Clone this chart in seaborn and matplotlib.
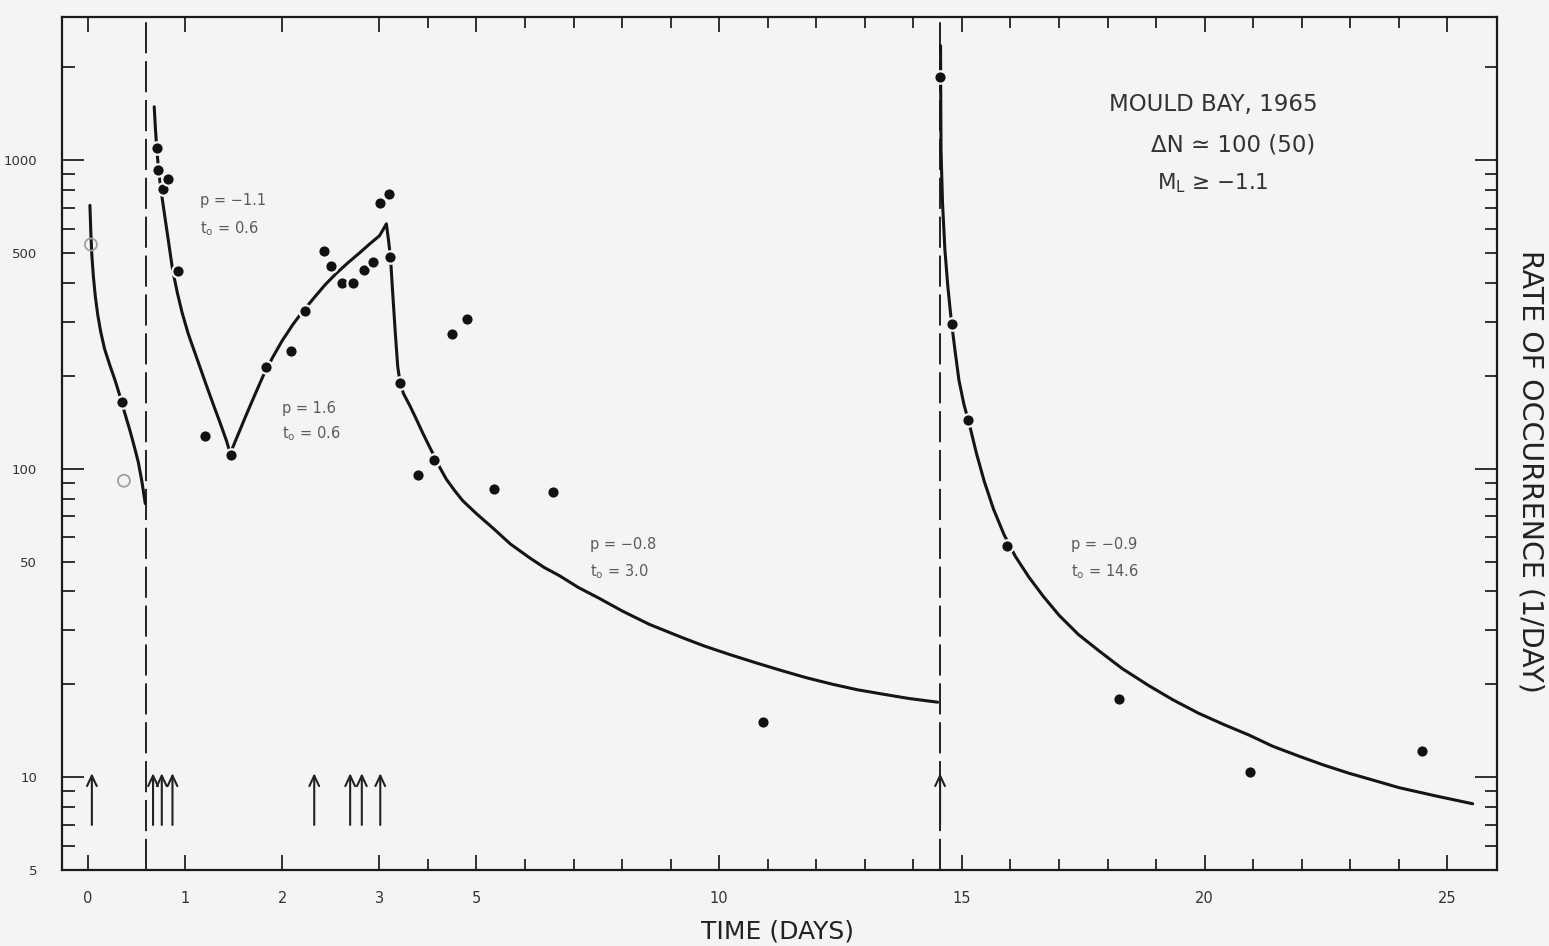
import numpy as np
import pandas as pd
import matplotlib
matplotlib.use("Agg")
import matplotlib.pyplot as plt
from matplotlib.ticker import FixedLocator, FuncFormatter
import seaborn as sns

# ---------------- data ----------------
# filled circles: time (days), rate (1/day)
obs_t = [0.35, 0.71, 0.72, 0.77, 0.82, 0.93, 1.21, 1.47, 1.83, 2.09, 2.23, 2.43, 2.50,
         2.62, 2.73, 2.84, 2.94, 3.01, 3.19, 3.23, 3.43, 3.80, 4.13, 4.50, 4.80, 5.36,
         6.57, 10.9, 14.55, 14.8, 15.13, 15.93, 18.23, 20.93, 24.47]
obs_rate = [164, 1099, 928, 809, 872, 436, 128, 111, 213, 241, 324, 507, 453,
            400, 400, 442, 468, 727, 780, 485, 189, 95.5, 107, 273, 305, 85.9,
            84.1, 15.1, 1857, 294, 144, 56.2, 17.9, 10.4, 12.2]

# open circles
open_t = [0.03, 0.37]
open_rate = [533, 91.4]

# fitted curves
curve1_t = [0.02, 0.025, 0.03, 0.04, 0.055, 0.075, 0.10, 0.13, 0.17, 0.226, 0.28, 0.329,
            0.38, 0.432, 0.48, 0.518, 0.555, 0.59]
curve1_rate = [714, 640, 575, 490, 422, 363, 316, 279, 245, 216, 193, 172,
               151, 133, 117, 105, 91, 77]

curve2_t = [0.682, 0.695, 0.71, 0.73, 0.758, 0.79, 0.83, 0.871, 0.92, 0.97, 1.032, 1.09,
            1.152, 1.22, 1.289, 1.36, 1.427, 1.465,
            1.55, 1.632, 1.72, 1.804, 1.9, 2.0, 2.112, 2.2, 2.318, 2.44, 2.558, 2.68,
            2.798, 2.9, 3.004, 3.08, 3.146,
            3.19, 3.23, 3.28, 3.33, 3.38, 3.43, 3.50, 3.63, 3.76, 3.90, 4.02, 4.14,
            4.26, 4.38, 4.55, 4.72, 5.0, 5.35, 5.7, 6.09, 6.4, 6.71, 7.1, 7.53, 8.0,
            8.56, 9.25, 9.7, 10.21, 10.75, 11.31, 11.8, 12.34, 12.85, 13.36, 13.9, 14.50]
curve2_rate = [1490, 1259, 1072, 912, 776, 661, 543, 442, 372, 320, 274, 243,
               214, 186, 162, 141, 123, 112,
               130, 150, 174, 200, 229, 260, 294, 320, 355, 394, 430, 466,
               501, 535, 569, 596, 622,
               550, 485, 363, 275, 214, 189, 175, 160, 145, 130, 119, 109,
               100, 92.5, 85, 78.7, 71.5, 64, 57, 51.5, 47.8, 45, 41.2, 38, 34.6,
               31.3, 28.3, 26.6, 25.0, 23.5, 22.1, 21.0, 20.0, 19.2, 18.6, 18.0, 17.5]

curve3_t = [14.56, 14.565, 14.57, 14.60, 14.65, 14.71, 14.78, 14.86, 14.94, 15.04, 15.15,
            15.30, 15.46, 15.65, 15.87, 16.10, 16.38, 16.68, 17.0, 17.4, 17.82, 18.3,
            18.85, 19.35, 19.88, 20.4, 20.91, 21.4, 21.94, 22.45, 22.97, 23.5, 24.0,
            24.75, 25.52]
curve3_rate = [2350, 1500, 1077, 730, 511, 390, 303, 240, 193, 162, 140,
               112, 91, 74, 61, 52, 44.5, 38.5, 33.5, 29, 25.7, 22.5,
               19.8, 17.8, 16.1, 14.8, 13.7, 12.6, 11.7, 10.95, 10.3, 9.75, 9.25,
               8.7, 8.2]

# main shocks (arrows) and onset lines
arrow_t = [0.04, 0.67, 0.76, 0.87, 2.33, 2.70, 2.82, 3.02, 14.55]
arrow_low, arrow_high = 7.0, 10.3
onset_t = [0.6, 14.55]

x_major = [0, 1, 2, 3, 5, 10, 15, 20, 25]
x_minor = [4, 6, 7, 8, 9, 11, 12, 13, 14, 16, 17, 18, 19, 21, 22, 23, 24]
y_major = [10, 100, 1000]
y_minor = [5, 6, 7, 8, 9, 20, 30, 40, 50, 60, 70, 80, 90,
           200, 300, 400, 500, 600, 700, 800, 900, 2000]
y_minor_labeled = [5, 50, 500]

fit_labels = [(1.15, 741, 601, "p = \u22121.1", "0.6"),
              (2.0, 157, 130, "p = 1.6", "0.6"),
              (7.33, 57, 46.5, "p = \u22120.8", "3.0"),
              (17.25, 57, 46.5, "p = \u22120.9", "14.6")]

# ---------------- figure ----------------
sns.set_style("white")
plt.rcParams["font.family"] = ["DejaVu Sans"]
bg = "#f4f4f2"
fig = plt.figure(figsize=(15.49, 9.46), dpi=100, facecolor=bg)
ax = fig.add_axes([0.0400, 0.0803, 0.9264, 0.9017], facecolor=bg)

curves = pd.DataFrame({
    "t": curve1_t + curve2_t + curve3_t,
    "rate": curve1_rate + curve2_rate + curve3_rate,
    "seg": [1] * len(curve1_t) + [2] * len(curve2_t) + [3] * len(curve3_t),
})
sns.lineplot(data=curves, x="t", y="rate", units="seg", estimator=None, sort=False,
             color="#151515", lw=2.2, ax=ax, legend=False)

sns.scatterplot(x=obs_t, y=obs_rate, s=80, color="#111111", edgecolor=bg, linewidth=1.6,
                ax=ax, zorder=5)
sns.scatterplot(x=open_t, y=open_rate, s=75, facecolors="none", edgecolors="#a0a0a0",
                linewidth=1.3, ax=ax, zorder=5)

for t in onset_t:
    ax.axvline(t, color="#222222", lw=1.4, linestyle=(0, (16, 4)), zorder=1)

for t in arrow_t:
    ax.annotate("", xy=(t, arrow_high), xytext=(t, arrow_low),
                arrowprops=dict(arrowstyle="->,head_length=0.75,head_width=0.35",
                                lw=1.5, color="#222222", shrinkA=0, shrinkB=0))


def fwd(x):
    x = np.asarray(x, dtype=float)
    return np.where(x <= 3, 2 * x, x + 3)


def inv(u):
    u = np.asarray(u, dtype=float)
    return np.where(u <= 6, u / 2, u - 3)


ax.set_xscale("function", functions=(fwd, inv))
ax.set_yscale("log")
ax.set_xlim(-0.268, 26.02)
ax.set_ylim(5, 2912)

ax.xaxis.set_major_locator(FixedLocator(x_major))
ax.xaxis.set_minor_locator(FixedLocator(x_minor))
ax.xaxis.set_major_formatter(FuncFormatter(lambda v, p: f"{v:g}"))
ax.xaxis.set_minor_formatter(FuncFormatter(lambda v, p: ""))
ax.yaxis.set_major_locator(FixedLocator(y_major))
ax.yaxis.set_minor_locator(FixedLocator(y_minor))
ax.yaxis.set_major_formatter(FuncFormatter(lambda v, p: f"{v:g}"))
ax.yaxis.set_minor_formatter(FuncFormatter(
    lambda v, p: f"{v:g}" if any(abs(v - m) < 1e-6 for m in y_minor_labeled) else ""))

ax.tick_params(which="both", direction="in", top=True, right=True, bottom=True, left=True,
               colors="#222222", labelcolor="#333333", width=1.3)
ax.tick_params(axis="x", which="major", length=11, pad=15, labelsize=10.5)
ax.tick_params(axis="x", which="minor", length=8)
ax.tick_params(axis="y", which="major", length=16, pad=18, labelsize=9.5)
ax.tick_params(axis="y", which="minor", length=9, pad=18, labelsize=9.5)
ax.set_xlabel("")
ax.set_ylabel("")
for s in ax.spines.values():
    s.set_visible(True)
    s.set_color("#1a1a1a")
    s.set_linewidth(1.6)

for x, y1, y2, ptxt, t0 in fit_labels:
    ax.text(x, y1, ptxt, fontsize=10.5, color="#5a5a5a", va="center", ha="left")
    ax.text(x, y2, "t$_\\mathregular{o}$ = " + t0, fontsize=10.5, color="#5a5a5a",
            va="center", ha="left")

ax.text(0.802, 0.897, "MOULD BAY, 1965", transform=ax.transAxes, fontsize=16.5,
        color="#333333", ha="center", va="center")
ax.text(0.816, 0.850, "\u0394N \u2243 100 (50)", transform=ax.transAxes, fontsize=16.5,
        color="#333333", ha="center", va="center")
ax.text(0.802, 0.805, "M$_\\mathregular{L}$ \u2265 \u22121.1", transform=ax.transAxes,
        fontsize=15.5, color="#333333", ha="center", va="center")

fig.text(0.502, 0.015, "TIME (DAYS)", fontsize=18, color="#222222", ha="center", va="center")
fig.text(0.988, 0.502, "RATE OF OCCURRENCE (1/DAY)", fontsize=20.5, color="#222222",
         ha="center", va="center", rotation=-90)

fig.savefig("out.png", dpi=100, facecolor=bg)
